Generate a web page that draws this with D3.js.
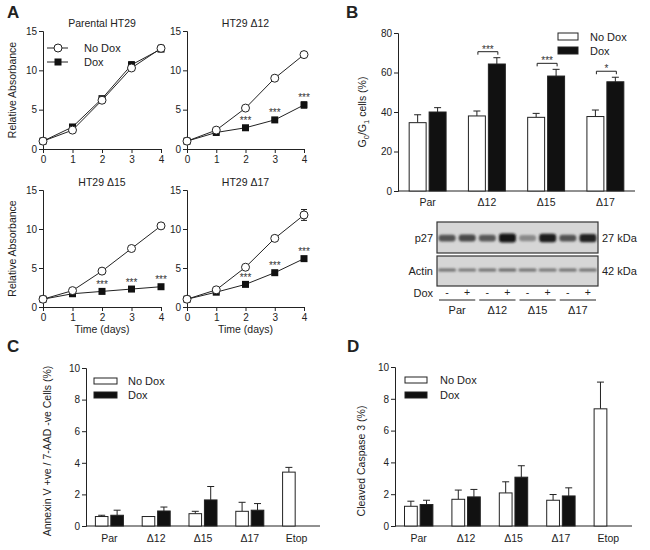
<!DOCTYPE html>
<html><head><meta charset="utf-8">
<script src="https://cdn.jsdelivr.net/npm/d3@7"></script>
<style>
body{margin:0;background:#fff;}
svg{font-family:"Liberation Sans",Arial,sans-serif;}
</style></head>
<body><svg id="c" width="650" height="550"></svg>
<script>
// ---------- Panel A data ----------
const days = [0, 1, 2, 3, 4];
const yTicksA = [0, 5, 10, 15];
const parNoDox = [1, 2.4, 6.2, 10.3, 12.8];
const parDox   = [1, 2.8, 6.4, 10.7, 12.7];
const parNoDoxErr = [0, 0.1, 0.2, 0.3, 0.4];
const parDoxErr   = [0, 0.1, 0.2, 0.4, 0.3];
const d12NoDox = [1, 2.4, 5.2, 9.0, 12.0];
const d12Dox   = [1, 2.1, 2.7, 3.7, 5.6];
const d12NoDoxErr = [0, 0.1, 0.1, 0.1, 0.1];
const d12DoxErr   = [0, 0.1, 0.1, 0.1, 0.4];
const d15NoDox = [1, 2.1, 4.6, 7.5, 10.4];
const d15Dox   = [1, 1.7, 2.0, 2.3, 2.6];
const d15NoDoxErr = [0, 0.1, 0.1, 0.1, 0.3];
const d15DoxErr   = [0, 0.1, 0.1, 0.1, 0.1];
const d17NoDox = [1, 2.2, 5.1, 8.8, 11.8];
const d17Dox   = [1, 1.9, 2.9, 4.4, 6.2];
const d17NoDoxErr = [0, 0.1, 0.1, 0.2, 0.7];
const d17DoxErr   = [0, 0.1, 0.1, 0.1, 0.1];
const starDaysA = [2, 3, 4];

// ---------- Panel B data ----------
const catsB = ["Par", "Δ12", "Δ15", "Δ17"];
const yTicksB = [0, 20, 40, 60, 80];
const g1NoDox = [34.6, 38.0, 37.3, 37.7];
const g1NoDoxErr = [4.0, 2.5, 2.0, 3.3];
const g1Dox = [40.0, 64.3, 58.2, 55.3];
const g1DoxErr = [2.2, 3.2, 3.4, 2.3];
const sigB = ["", "***", "***", "*"];
// western blot
const blotLanes = [0, 1, 2, 3, 4, 5, 6, 7];
const doxSigns = ["-", "+", "-", "+", "-", "+", "-", "+"];
const p27Intensity   = [0.62, 0.68, 0.58, 1.0, 0.28, 0.95, 0.62, 0.92];
const p27Thickness   = [0.55, 0.6, 0.55, 1.0, 0.45, 0.9, 0.55, 0.85];
const actinIntensity = [0.45, 0.4, 0.45, 0.5, 0.45, 0.42, 0.45, 0.45];
const blotGroups = ["Par", "Δ12", "Δ15", "Δ17"];

// ---------- Panel C data ----------
const catsCD = ["Par", "Δ12", "Δ15", "Δ17", "Etop"];
const yTicksCD = [0, 2, 4, 6, 8, 10];
const annNoDox = [0.6, 0.6, 0.78, 0.93, 3.41];
const annNoDoxErr = [0.08, 0, 0.15, 0.57, 0.3];
const annDox = [0.68, 0.95, 1.65, 1.0, null];
const annDoxErr = [0.32, 0.25, 0.85, 0.42, null];

// ---------- Panel D data ----------
const casNoDox = [1.24, 1.68, 2.08, 1.62, 7.37];
const casNoDoxErr = [0.32, 0.58, 0.7, 0.36, 1.68];
const casDox = [1.35, 1.83, 3.07, 1.89, null];
const casDoxErr = [0.27, 0.47, 0.72, 0.51, null];

const svg = d3.select("#c");
const INK = "#222";
const FONT = 10;

function letter(t, x, y) {
  svg.append("text").attr("x", x).attr("y", y).attr("font-size", 17)
    .attr("font-weight", "bold").attr("fill", INK).text(t);
}

function styleAxis(g) {
  g.selectAll("path,line").attr("stroke", INK).attr("stroke-width", 1);
  g.selectAll("text").attr("font-size", FONT).attr("fill", INK)
    .attr("font-family", "Liberation Sans, Arial, sans-serif");
}

// ---------- line panel ----------
function linePanel(o) {
  const x = d3.scaleLinear().domain([0, 4]).range([o.x0, o.x1]);
  const y = d3.scaleLinear().domain([0, 15]).range([o.y0, o.y1]);
  const g = svg.append("g");
  const ax = g.append("g").attr("transform", `translate(${o.x0 - 0},0)`)
    .call(d3.axisLeft(y).tickValues(yTicksA).tickSize(4).tickPadding(2));
  styleAxis(ax);
  const bx = g.append("g").attr("transform", `translate(0,${o.y0})`)
    .call(d3.axisBottom(x).tickValues(days).tickSize(4).tickPadding(3).tickFormat(d3.format("d")));
  styleAxis(bx);
  g.append("text").attr("x", (o.x0 + o.x1) / 2).attr("y", o.y1 - 4)
    .attr("text-anchor", "middle").attr("font-size", 10.5).attr("fill", INK).text(o.title);
  if (o.ylab) {
    g.append("text").attr("transform", `translate(${o.x0 - 27},${(o.y0 + o.y1) / 2}) rotate(-90)`)
      .attr("text-anchor", "middle").attr("font-size", 10.5).attr("fill", INK).text("Relative Absorbance");
  }
  if (o.xlab) {
    g.append("text").attr("x", (o.x0 + o.x1) / 2).attr("y", o.y0 + 26)
      .attr("text-anchor", "middle").attr("font-size", 10.5).attr("fill", INK).text("Time (days)");
  }
  const line = d3.line().x((d, i) => x(days[i])).y(d => y(d));
  function series(vals, errs, type) {
    g.append("path").datum(vals).attr("d", line).attr("fill", "none")
      .attr("stroke", INK).attr("stroke-width", 1);
    vals.forEach((v, i) => {
      if (errs[i] > 0) {
        const cx = x(days[i]);
        g.append("line").attr("x1", cx).attr("x2", cx).attr("y1", y(v - errs[i])).attr("y2", y(v + errs[i]))
          .attr("stroke", INK);
        [v - errs[i], v + errs[i]].forEach(e => g.append("line").attr("x1", cx - 3).attr("x2", cx + 3)
          .attr("y1", y(e)).attr("y2", y(e)).attr("stroke", INK));
      }
    });
    g.selectAll(null).data(vals).enter().append(type === "c" ? "circle" : "rect")
      .each(function (d, i) {
        const s = d3.select(this);
        if (type === "c") s.attr("cx", x(days[i])).attr("cy", y(d)).attr("r", 4)
          .attr("fill", "#fff").attr("stroke", INK).attr("stroke-width", 1);
        else s.attr("x", x(days[i]) - 3.5).attr("y", y(d) - 3.5).attr("width", 7).attr("height", 7)
          .attr("fill", "#111");
      });
  }
  series(o.dox, o.doxErr, "s");
  series(o.noDox, o.noDoxErr, "c");
  if (o.stars) {
    starDaysA.forEach(dd => {
      g.append("text").attr("x", x(dd)).attr("y", y(o.dox[dd]) - 3.5)
        .attr("text-anchor", "middle").attr("font-size", 10).attr("fill", "#333").text("***");
    });
  }
  if (o.legend) {
    const lx = o.x0 + 4, ly1 = o.y1 + 17, ly2 = o.y1 + 31;
    g.append("line").attr("x1", lx).attr("x2", lx + 21).attr("y1", ly1).attr("y2", ly1).attr("stroke", INK);
    g.append("circle").attr("cx", lx + 11).attr("cy", ly1).attr("r", 4).attr("fill", "#fff").attr("stroke", INK);
    g.append("text").attr("x", lx + 37).attr("y", ly1 + 4).attr("font-size", 11).attr("fill", INK).text("No Dox");
    g.append("line").attr("x1", lx).attr("x2", lx + 21).attr("y1", ly2).attr("y2", ly2).attr("stroke", INK);
    g.append("rect").attr("x", lx + 7.5).attr("y", ly2 - 3.5).attr("width", 7).attr("height", 7).attr("fill", "#111");
    g.append("text").attr("x", lx + 37).attr("y", ly2 + 4).attr("font-size", 11).attr("fill", INK).text("Dox");
  }
}

letter("A", 7, 18);
linePanel({x0: 43, x1: 161, y0: 149, y1: 31, title: "Parental HT29", ylab: true,
  noDox: parNoDox, noDoxErr: parNoDoxErr, dox: parDox, doxErr: parDoxErr, legend: true});
linePanel({x0: 187, x1: 304, y0: 149, y1: 31, title: "HT29 Δ12",
  noDox: d12NoDox, noDoxErr: d12NoDoxErr, dox: d12Dox, doxErr: d12DoxErr, stars: true});
linePanel({x0: 43, x1: 161, y0: 307, y1: 190, title: "HT29 Δ15", ylab: true, xlab: true,
  noDox: d15NoDox, noDoxErr: d15NoDoxErr, dox: d15Dox, doxErr: d15DoxErr, stars: true});
linePanel({x0: 187, x1: 304, y0: 307, y1: 190, title: "HT29 Δ17", xlab: true,
  noDox: d17NoDox, noDoxErr: d17NoDoxErr, dox: d17Dox, doxErr: d17DoxErr, stars: true});

// ---------- bar panel ----------
function barPanel(o) {
  const x = d3.scaleBand().domain(o.cats).range([o.x0, o.x1]).paddingInner(o.pad).paddingOuter(o.pad / 2);
  const xi = d3.scaleBand().domain(["nd", "d"]).range([0, x.bandwidth()]).paddingInner(o.innerPad);
  const y = d3.scaleLinear().domain([0, o.ymax]).range([o.y0, o.y1]);
  const g = svg.append("g");
  const ax = g.append("g").attr("transform", `translate(${o.x0},0)`)
    .call(d3.axisLeft(y).tickValues(o.ticks).tickSize(4).tickPadding(2));
  styleAxis(ax);
  const bx = g.append("g").attr("transform", `translate(0,${o.y0})`)
    .call(d3.axisBottom(x).tickSize(0).tickPadding(o.labPad));
  styleAxis(bx);
  bx.select(".domain").attr("d", `M${o.x0},0H${o.x1}`);
  bx.selectAll("text").attr("font-size", 10.5);
  function bars(vals, errs, key) {
    vals.forEach((v, i) => {
      if (v == null) return;
      const bxp = x(o.cats[i]) + xi(key), w = xi.bandwidth();
      const cx = bxp + w / 2;
      if (errs[i] > 0) {
        g.append("line").attr("x1", cx).attr("x2", cx).attr("y1", y(v)).attr("y2", y(v + errs[i])).attr("stroke", INK);
        g.append("line").attr("x1", cx - 3.5).attr("x2", cx + 3.5).attr("y1", y(v + errs[i])).attr("y2", y(v + errs[i])).attr("stroke", INK);
      }
      g.append("rect").attr("x", bxp + 0.5).attr("y", y(v)).attr("width", w - 1).attr("height", y(0) - y(v))
        .attr("fill", key === "nd" ? "#fff" : "#111").attr("stroke", INK).attr("stroke-width", 1);
    });
  }
  bars(o.nd, o.ndErr, "nd");
  bars(o.d, o.dErr, "d");
  // legend
  const L = o.legend;
  g.append("rect").attr("x", L.x).attr("y", L.y).attr("width", L.w).attr("height", L.h)
    .attr("fill", "#fff").attr("stroke", INK);
  g.append("text").attr("x", L.tx).attr("y", L.y + L.h / 2 + 4).attr("font-size", 11).attr("fill", INK).text("No Dox");
  g.append("rect").attr("x", L.x).attr("y", L.y + L.dy).attr("width", L.w).attr("height", L.h)
    .attr("fill", "#111").attr("stroke", INK);
  g.append("text").attr("x", L.tx).attr("y", L.y + L.dy + L.h / 2 + 4).attr("font-size", 11).attr("fill", INK).text("Dox");
  if (o.sig) {
    o.sig.forEach((s, i) => {
      if (!s) return;
      const xa = x(o.cats[i]) + xi("nd") + xi.bandwidth() / 2 + 1;
      const xb = x(o.cats[i]) + xi("d") + xi.bandwidth() / 2 + 1;
      const yy = y(o.d[i] + o.dErr[i]) - 6;
      g.append("path").attr("d", `M${xa},${yy + 3}V${yy}H${xb}V${yy + 3}`).attr("fill", "none").attr("stroke", INK);
      g.append("text").attr("x", (xa + xb) / 2).attr("y", yy + 1).attr("text-anchor", "middle")
        .attr("font-size", 10).attr("fill", "#333").text(s);
    });
  }
  return {x, y, g};
}

letter("B", 346, 18);
const pB = barPanel({cats: catsB, x0: 398, x1: 635, y0: 191, y1: 33, ymax: 80, ticks: yTicksB,
  pad: 0.36, innerPad: 0.1, labPad: 8, nd: g1NoDox, ndErr: g1NoDoxErr, d: g1Dox, dErr: g1DoxErr, sig: sigB,
  legend: {x: 558, y: 33, w: 20, h: 7, dy: 14, tx: 590}});
const gl = svg.append("text").attr("transform", "translate(366,112) rotate(-90)").attr("text-anchor", "middle")
  .attr("font-size", 10.5).attr("fill", INK);
gl.append("tspan").text("G");
gl.append("tspan").attr("font-size", 7.5).attr("dy", 3).text("0");
gl.append("tspan").attr("dy", -3).text("/G");
gl.append("tspan").attr("font-size", 7.5).attr("dy", 3).text("1");
gl.append("tspan").attr("dy", -3).text(" cells (%)");

// western blot
const defs = svg.append("defs");
defs.append("filter").attr("id", "blur").attr("x", "-30%").attr("y", "-100%").attr("width", "160%").attr("height", "300%")
  .append("feGaussianBlur").attr("stdDeviation", "1.1 0.8");
const lane = d3.scaleBand().domain(blotLanes).range([437, 598]);
function blotBox(y0, y1) {
  svg.append("rect").attr("x", 437).attr("y", y0).attr("width", 161).attr("height", y1 - y0)
    .attr("fill", "#d6d6d6").attr("stroke", "#333").attr("stroke-width", 1.2);
}
blotBox(222, 253);
blotBox(256, 286);
const gray = d3.interpolateRgb("#b8b8b8", "#141414");
blotLanes.forEach(i => {
  const cx = lane(i) + lane.bandwidth() / 2;
  const h = 4 + 5 * p27Thickness[i];
  svg.append("rect").attr("x", cx - 8.5).attr("y", 238 - h / 2).attr("width", 17).attr("height", h)
    .attr("rx", 3).attr("fill", gray(p27Intensity[i])).attr("filter", "url(#blur)");
  svg.append("rect").attr("x", cx - 9).attr("y", 268.5).attr("width", 18).attr("height", 3)
    .attr("rx", 1.5).attr("fill", gray(actinIntensity[i])).attr("filter", "url(#blur)");
  svg.append("text").attr("x", cx).attr("y", 296).attr("text-anchor", "middle").attr("font-size", 10.5)
    .attr("fill", INK).text(doxSigns[i]);
});
[["p27", 238], ["Actin", 271]].forEach(([t, yy]) => svg.append("text").attr("x", 433).attr("y", yy + 4)
  .attr("text-anchor", "end").attr("font-size", 11).attr("fill", INK).text(t));
[["27 kDa", 238], ["42 kDa", 271]].forEach(([t, yy]) => svg.append("text").attr("x", 602).attr("y", yy + 4)
  .attr("font-size", 11).attr("fill", INK).text(t));
svg.append("text").attr("x", 433).attr("y", 297).attr("text-anchor", "end").attr("font-size", 11).attr("fill", INK).text("Dox");
blotGroups.forEach((t, k) => {
  const a = lane(2 * k) + 2, b = lane(2 * k + 1) + lane.bandwidth() - 2;
  svg.append("line").attr("x1", a).attr("x2", b).attr("y1", 300).attr("y2", 300).attr("stroke", INK);
  svg.append("text").attr("x", (a + b) / 2).attr("y", 314).attr("text-anchor", "middle").attr("font-size", 11)
    .attr("fill", INK).text(t);
});

// ---------- Panel C ----------
letter("C", 7, 352);
barPanel({cats: catsCD, x0: 86, x1: 320, y0: 526, y1: 368, ymax: 10, ticks: yTicksCD,
  pad: 0.38, innerPad: 0.12, labPad: 9, nd: annNoDox, ndErr: annNoDoxErr, d: annDox, dErr: annDoxErr,
  legend: {x: 94, y: 378, w: 23, h: 6, dy: 14, tx: 128}});
svg.append("text").attr("transform", "translate(51,451) rotate(-90)").attr("text-anchor", "middle")
  .attr("font-size", 10.5).attr("fill", INK).text("Annexin V +ve / 7-AAD -ve Cells (%)");

// ---------- Panel D ----------
letter("D", 347, 352);
barPanel({cats: catsCD, x0: 395, x1: 632, y0: 526, y1: 367, ymax: 10, ticks: yTicksCD,
  pad: 0.38, innerPad: 0.12, labPad: 9, nd: casNoDox, ndErr: casNoDoxErr, d: casDox, dErr: casDoxErr,
  legend: {x: 405, y: 377, w: 22, h: 6, dy: 15, tx: 440}});
svg.append("text").attr("transform", "translate(365,461) rotate(-90)").attr("text-anchor", "middle")
  .attr("font-size", 10.5).attr("fill", INK).text("Cleaved Caspase 3 (%)");
</script></body></html>
